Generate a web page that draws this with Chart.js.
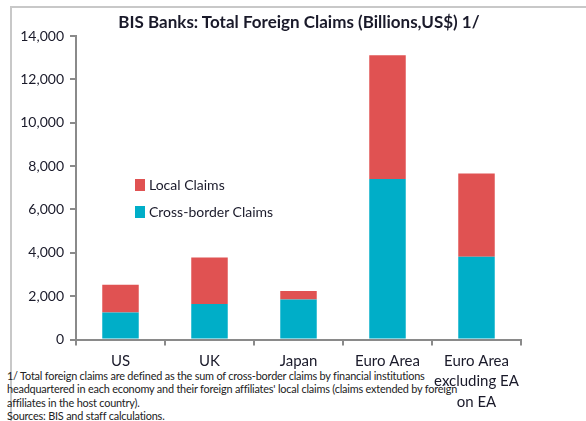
<!DOCTYPE html>
<html lang="en">
<head>
    <meta charset="UTF-8">
    <title>BIS Banks: Total Foreign Claims</title>
    <script src="https://cdn.jsdelivr.net/npm/chart.js"></script>
    <style>
        body { margin: 0; background: #fff; font-family: Lato, "Open Sans", sans-serif; }
        .wrap { position: relative; width: 586px; height: 421px; overflow: hidden; }
        .frame { position: absolute; left: 10px; top: 6px; right: -5px; bottom: -5px; border-top: 2px solid #c8c8c8; border-left: 2px solid #c8c8c8; }
        .title { position: absolute; top: 11px; left: 0; width: 586px; padding-left: 6px; text-align: center; font-weight: bold; font-size: 17px; color: #1a1a2a; }
        .legend { position: absolute; left: 135px; top: 176px; font-size: 14px; color: #1a1a2a; }
        .legend div { height: 27px; line-height: 18px; }
        .legend span { display: inline-block; width: 10px; height: 12px; margin-right: 4px; vertical-align: -1px; }
        .note { position: absolute; left: 7px; top: 369px; font-size: 10.9px; line-height: 13.4px; letter-spacing: -0.2px; color: #222; white-space: nowrap; }
        canvas { position: absolute; left: 0; top: 0; }
    </style>
</head>
<body>
<div class="wrap">
    <div class="frame"></div>
    <div class="note">
        1/ Total foreign claims are defined as the sum of cross-border claims by financial institutions<br>
        headquartered in each economy and their foreign affiliates' local claims (claims extended by foreign<br>
        affiliates in the host country).<br>
        Sources: BIS and staff calculations.
    </div>
    <canvas id="claimsChart" width="586" height="421"></canvas>
    <div class="title">BIS Banks: Total Foreign Claims (Billions,US$) 1/</div>
    <div class="legend">
        <div><span style="background:#e05252"></span>Local Claims</div>
        <div><span style="background:#00aec8"></span>Cross-border Claims</div>
    </div>
</div>

<script>
    // values (billions of US$)
    const categories = ['US', 'UK', 'Japan', 'Euro Area', ['Euro Area', 'excluding EA', 'on EA']];
    const crossBorder = [1250, 1640, 1850, 7400, 3820];
    const localClaims = [1270, 2140, 390, 5710, 3840];
    const yTicks = [0, 2000, 4000, 6000, 8000, 10000, 12000, 14000];

    const axisGray = '#8a8a8a';
    const textColor = '#1a1a2a';

    new Chart(document.getElementById('claimsChart'), {
        type: 'bar',
        data: {
            labels: categories,
            datasets: [
                { label: 'Cross-border Claims', data: crossBorder, backgroundColor: '#00aec8' },
                { label: 'Local Claims', data: localClaims, backgroundColor: '#e05252' }
            ]
        },
        options: {
            responsive: false,
            animation: false,
            layout: { padding: { left: 10, top: 36, right: 65, bottom: 0 } },
            datasets: { bar: { barPercentage: 0.41, categoryPercentage: 1 } },
            plugins: { legend: { display: false }, title: { display: false }, tooltip: { enabled: false } },
            scales: {
                x: {
                    stacked: true,
                    afterFit: s => { s.height = 81.5; },
                    border: { color: axisGray, width: 2 },
                    grid: { drawOnChartArea: false, color: axisGray, lineWidth: 2, tickLength: 6 },
                    ticks: {
                        color: textColor,
                        padding: 5,
                        maxRotation: 0,
                        font: { family: 'Lato', size: 15, lineHeight: 1.37 }
                    }
                },
                y: {
                    stacked: true,
                    min: 0,
                    max: 14000,
                    afterFit: s => { s.width = 66; },
                    afterBuildTicks: s => { s.ticks = yTicks.map(v => ({ value: v })); },
                    border: { color: axisGray, width: 2 },
                    grid: { drawOnChartArea: false, color: axisGray, lineWidth: 2, tickLength: 6 },
                    ticks: {
                        color: textColor,
                        padding: 6,
                        font: { family: 'Lato', size: 14 },
                        callback: v => v.toLocaleString('en-US')
                    }
                }
            }
        }
    });
</script>
</body>
</html>
